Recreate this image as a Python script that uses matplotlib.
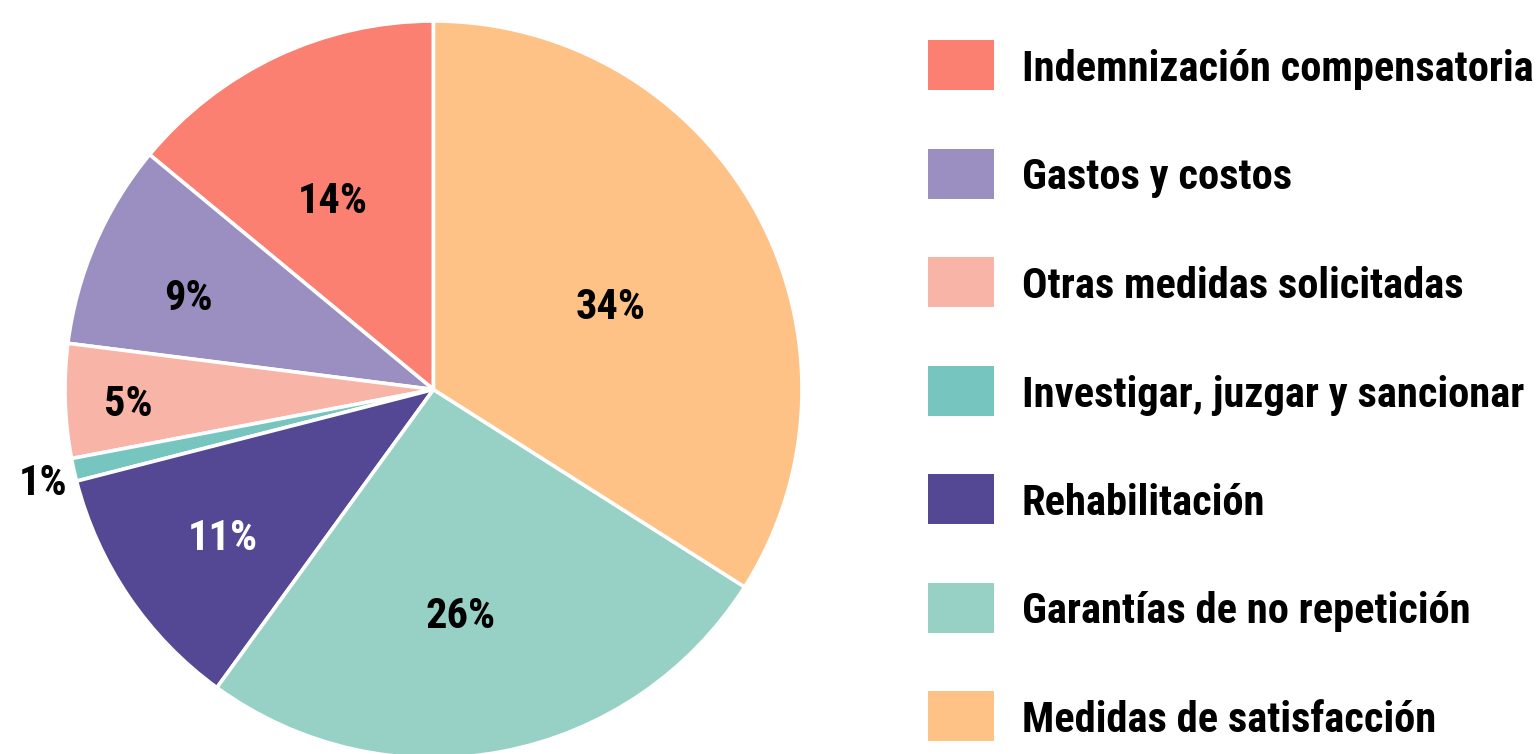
import numpy as np
import matplotlib
matplotlib.use("Agg")
import matplotlib.pyplot as plt
from matplotlib.patches import Rectangle
from matplotlib import font_manager as fm

categories = ["Indemnización compensatoria", "Gastos y costos", "Otras medidas solicitadas",
              "Investigar, juzgar y sancionar", "Rehabilitación", "Garantías de no repetición",
              "Medidas de satisfacción"]
values = [14, 9, 5, 1, 11, 26, 34]
labels = ["14%", "9%", "5%", "1%", "11%", "26%", "34%"]
colors = ["#FB8072", "#9A8FC0", "#F9B4A8", "#76C5BE", "#544794", "#97D1C5", "#FEC287"]

names = {f.name for f in fm.fontManager.ttflist}
fam = ["Roboto Condensed", "Roboto", "DejaVu Sans"] if "Roboto Condensed" in names else ["Roboto", "DejaVu Sans"]
plt.rcParams["font.family"] = fam

W, H = 1539, 754
fig = plt.figure(figsize=(W / 100, H / 100), dpi=100)
cx, cy, r = 433.5, 389.5, 368.5
ax = fig.add_axes([(cx - r) / W, (H - cy - r) / H, 2 * r / W, 2 * r / H])

wedges, _ = ax.pie(values, colors=colors, startangle=90, counterclock=True, radius=1,
                   wedgeprops=dict(edgecolor="white", linewidth=2.6))
ax.set_xlim(-1, 1)
ax.set_ylim(-1, 1)
ax.set_aspect("equal")
ax.axis("off")

label_r = [0.58, 0.71, 0.83, 1.09, 0.70, 0.62, 0.53]
label_da = [3, 3, 1, 1, 1, -4, -4]
label_col = ["black", "black", "black", "black", "white", "black", "black"]
for w, lab, rr, da, c in zip(wedges, labels, label_r, label_da, label_col):
    ang = np.deg2rad((w.theta1 + w.theta2) / 2 + da)
    ax.text(rr * np.cos(ang), rr * np.sin(ang), lab, ha="center", va="center",
            fontsize=30.5, fontweight="bold", color=c, clip_on=False)

row0, step = 65, 108.5
for i, (cat, col) in enumerate(zip(categories, colors)):
    yc = row0 + i * step
    fig.add_artist(Rectangle((928 / W, (H - yc - 25) / H), 66 / W, 50 / H,
                             transform=fig.transFigure, facecolor=col, edgecolor="none"))
    fig.text(1022 / W, (H - yc) / H, cat, ha="left", va="center_baseline",
             fontsize=30.6, fontweight="bold", color="black")

fig.savefig("out.png", dpi=100)
